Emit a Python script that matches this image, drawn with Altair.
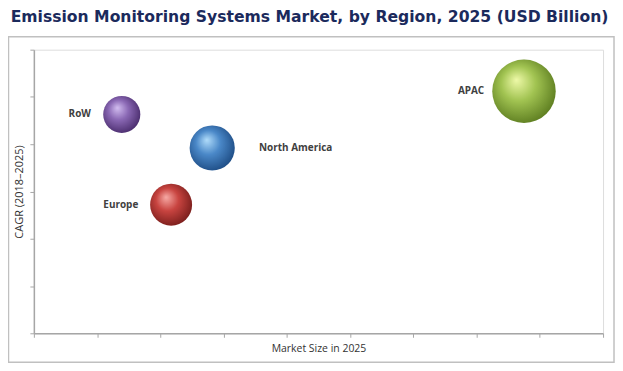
import altair as alt
import pandas as pd

regions = ["RoW", "North America", "Europe", "APAC"]
market_size = [1.39, 2.82, 2.17, 7.75]
cagr = [4.63, 3.92, 2.72, 5.12]
bubble = [1.39, 2.06, 1.78, 4.07]

x_ticks = list(range(0, 10))
y_ticks = list(range(0, 7))

df = pd.DataFrame({"region": regions, "size": market_size, "cagr": cagr, "bubble": bubble})

W, H = 572, 285
axis_col = "#a6a6a6"

x_enc = alt.X("size:Q", scale=alt.Scale(domain=[0, 9], nice=False),
              axis=alt.Axis(title="Market Size in 2025", labels=False, grid=False,
                            values=x_ticks, tickSize=4, tickColor=axis_col, domainColor=axis_col,
                            domainWidth=1.5, titleFont="Open Sans", titleFontSize=10.5,
                            titleFontWeight="normal", titleColor="#333333", titlePadding=6))
y_enc = alt.Y("cagr:Q", scale=alt.Scale(domain=[0, 6], nice=False),
              axis=alt.Axis(title="CAGR (2018–2025)", labels=False, grid=False,
                            values=y_ticks, tickSize=4, tickColor=axis_col, domainColor=axis_col,
                            domainWidth=1.5, titleFont="Open Sans", titleFontSize=11,
                            titleFontWeight="normal", titleColor="#333333", titlePadding=5))
s_enc = alt.Size("bubble:Q", scale=alt.Scale(domain=[0, 4], range=[0, 4000]), legend=None)

palette = {
    "RoW": ("#d2bdf0", "#8a68b4", "#472a6a"),
    "North America": ("#b0dcfa", "#4a88c8", "#1c4a82"),
    "Europe": ("#f7aaa5", "#c84440", "#761c1a"),
    "APAC": ("#eef9a8", "#a2c452", "#5a7a1e"),
}
label_style = {
    "RoW": ("right", -31),
    "North America": ("left", 47),
    "Europe": ("right", -33),
    "APAC": ("right", -40),
}

border = alt.Chart(pd.DataFrame({"b": [0]})).mark_rect(
    fill="transparent", stroke="#c0c0c0", strokeWidth=1.5
).encode(x=alt.value(-25.5), x2=alt.value(583), y=alt.value(-13), y2=alt.value(314))

layers = [border]
for r in regions:
    light, mid, dark = palette[r]
    grad = alt.RadialGradient(
        gradient="radial", x1=0.38, y1=0.32, r1=0.0, x2=0.45, y2=0.45, r2=0.6,
        stops=[alt.GradientStop(offset=0, color=light),
               alt.GradientStop(offset=0.45, color=mid),
               alt.GradientStop(offset=1, color=dark)])
    layers.append(
        alt.Chart(df).transform_filter(alt.datum.region == r)
        .mark_circle(fill=grad, opacity=1, strokeWidth=0)
        .encode(x=x_enc, y=y_enc, size=s_enc)
    )
for r in regions:
    align, dx = label_style[r]
    layers.append(
        alt.Chart(df).transform_filter(alt.datum.region == r)
        .mark_text(align=align, dx=dx, baseline="middle", font="Open Sans",
                   fontSize=10, fontWeight="bold", color="#404040")
        .encode(x=x_enc, y=y_enc, text="region:N")
    )

chart = alt.layer(*layers).properties(
    width=W, height=H,
    autosize=alt.AutoSizeParams(type="none"),
    padding={"left": 26, "top": 41, "right": 12, "bottom": 30},
    title=alt.Title("Emission Monitoring Systems Market, by Region, 2025 (USD Billion)",
                    font="DejaVu Sans", fontSize=15.7, fontWeight="bold", color="#1b2a5c",
                    anchor="middle", dx=-9, offset=10),
).configure_view(stroke=None).configure(background="white")

chart.save("out.html", embed_options={"renderer": "svg", "actions": False})
